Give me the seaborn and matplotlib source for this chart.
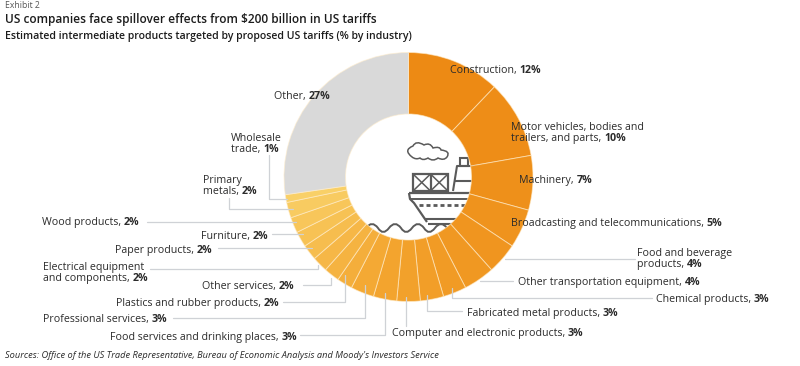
import matplotlib
matplotlib.use("Agg")
import matplotlib.pyplot as plt
from matplotlib.patches import PathPatch, Rectangle
from matplotlib.path import Path
import seaborn as sns

sns.set_theme(style="white")
plt.rcParams["font.family"] = ["Open Sans", "DejaVu Sans"]

industries = ["Construction", "Motor vehicles", "Machinery", "Broadcasting", "Food and beverage",
              "Other transportation", "Chemical", "Fabricated metal", "Computer", "Food services",
              "Professional", "Plastics", "Other services", "Electrical", "Paper", "Furniture",
              "Wood", "Primary metals", "Wholesale", "Other"]
shares = [12, 10, 7, 5, 4, 4, 3, 3, 3, 3, 3, 2, 2, 2, 2, 2, 2, 2, 1, 27]

# (regular text, bold value, x, baseline y of last line)
labels = [
    ("Construction, ", "12%", 450, 73),
    ("Motor vehicles, bodies and\ntrailers, and parts, ", "10%", 511, 141),
    ("Machinery, ", "7%", 519, 183),
    ("Broadcasting and telecommunications, ", "5%", 511, 226),
    ("Food and beverage\nproducts, ", "4%", 637, 267),
    ("Other transportation equipment, ", "4%", 518, 285),
    ("Chemical products, ", "3%", 656, 302),
    ("Fabricated metal products, ", "3%", 467, 316),
    ("Computer and electronic products, ", "3%", 392, 336),
    ("Food services and drinking places, ", "3%", 110, 340),
    ("Professional services, ", "3%", 43, 322),
    ("Plastics and rubber products, ", "2%", 116, 306),
    ("Other services, ", "2%", 202, 289),
    ("Electrical equipment\nand components, ", "2%", 43, 281),
    ("Paper products, ", "2%", 115, 253),
    ("Furniture, ", "2%", 201, 239),
    ("Wood products, ", "2%", 42, 225),
    ("Primary\nmetals, ", "2%", 203, 194),
    ("Wholesale\ntrade, ", "1%", 231, 152),
    ("Other, ", "27%", 274, 99),
]

leaders = [
    [(505, 259), (635, 259)],
    [(480, 281), (513, 281)],
    [(452, 288), (452, 298), (652, 298)],
    [(427, 295), (427, 311), (462, 311)],
    [(406, 297), (406, 326)],
    [(385, 293), (385, 335), (300, 335)],
    [(365, 285), (365, 318), (173, 318)],
    [(345, 275), (345, 302), (283, 302)],
    [(331, 278), (331, 285), (303, 285)],
    [(318, 265), (318, 269), (150, 269)],
    [(312, 248), (218, 248)],
    [(303, 234), (272, 234)],
    [(296, 222), (147, 222)],
    [(293, 209), (229, 209), (229, 198)],
    [(287, 199), (269, 199), (269, 155)],
]

W, H = 800, 366
cx, cy, R, r = 408.5, 177, 124.5, 63
ink = "#2b2b2b"
icon = "#5a5a5a"

fig = plt.figure(figsize=(8, 3.66), dpi=100)

# pixel axes under the ring for the ship, which the ring partly hides
bg = fig.add_axes([0, 0, 1, 1], zorder=0)
bg.set_xlim(0, W)
bg.set_ylim(H, 0)
bg.axis("off")


def stroke(pts, lw=1.5, ax=bg):
    ax.plot([p[0] for p in pts], [p[1] for p in pts], color=icon, lw=lw, solid_capstyle="butt")


def curve(verts, lw=1.3):
    codes = [Path.MOVETO] + [Path.CURVE3] * (len(verts) - 1)
    bg.add_patch(PathPatch(Path(verts, codes), fc="none", ec=icon, lw=lw))


# cloud
curve([(412, 157), (403, 150), (413, 146), (416, 140), (424, 145), (430, 142), (433, 148),
       (440, 146), (441, 150), (451, 151), (447, 157), (444, 161), (438, 158), (433, 162),
       (428, 158), (423, 161), (420, 158), (416, 160), (412, 157)], 1.1)
# containers
bg.add_patch(Rectangle((413, 174), 35, 17, fc="none", ec=icon, lw=1.6))
stroke([(430.5, 174), (430.5, 191)], 1.6)
for x0, x1 in [(413, 430.5), (430.5, 448)]:
    stroke([(x0, 174), (x1, 191)], 1.1)
    stroke([(x0, 191), (x1, 174)], 1.1)
# funnel
stroke([(453, 191), (457, 166), (476, 166)], 1.5)
stroke([(454, 181), (476, 181)], 1.5)
bg.add_patch(Rectangle((460, 158), 8, 8, fc="none", ec=icon, lw=1.5))
# hull
stroke([(409, 193), (476, 193)], 1.6)
stroke([(410, 199), (476, 199)], 1.4)
stroke([(409, 193), (410, 199), (414, 203), (427, 222)], 1.6)
stroke([(425, 219), (470, 219)], 1.5)
stroke([(428, 224), (460, 224)], 1.5)
for x in [419, 426, 433, 440, 447, 454, 461]:
    stroke([(x, 205), (x + 3.5, 205)], 2.0)
# water
curve([(366, 228), (372, 220), (378, 228), (383, 236), (389, 228), (395, 220), (401, 228),
       (406, 236), (412, 228), (418, 220), (424, 228), (429, 236), (435, 228), (441, 220), (447, 228)], 1.4)

# ring, transparent hole
ax = fig.add_axes([(cx - R - 2) / W, 1 - (cy + R + 2) / H, (2 * R + 4) / W, (2 * R + 4) / H], zorder=1)
ax.patch.set_alpha(0)
colors = sns.blend_palette(["#ED8A14", "#F3A42E", "#F9D067"], n_colors=len(shares) - 1) + ["#D9D9D9"]
ax.pie(shares, colors=colors, startangle=90, counterclock=False, radius=R,
       wedgeprops=dict(width=R - r, edgecolor=(1, 0.93, 0.8, 0.6), linewidth=0.7))
ax.set_xlim(-R - 2, R + 2)
ax.set_ylim(-R - 2, R + 2)

# pixel axes over the ring for leaders and texts
top = fig.add_axes([0, 0, 1, 1], zorder=2)
top.set_xlim(0, W)
top.set_ylim(H, 0)
top.axis("off")
top.patch.set_alpha(0)

for pts in leaders:
    top.plot([p[0] for p in pts], [p[1] for p in pts], color="#cfd2d6", lw=0.9)

rend = fig.canvas.get_renderer()
fs = 7.7
for text, val, x, y in labels:
    top.text(x, y, text, fontsize=fs, color=ink, va="baseline", ha="left", linespacing=0.95)
    # width of the last line only, the bold value follows it
    probe = top.text(x, y, text.split("\n")[-1], fontsize=fs, va="baseline", ha="left")
    end = probe.get_window_extent(rend).x1
    probe.remove()
    top.text(end, y, val, fontsize=fs, color=ink, va="baseline", ha="left", fontweight="bold")

top.text(5, 5, "Exhibit 2", fontsize=6.2, color="#555555", va="center")
top.text(5, 20, "US companies face spillover effects from \\$200 billion in US tariffs", fontsize=8.6,
         color="#1c1c1c", va="center", fontweight="semibold")
top.text(5, 37, "Estimated intermediate products targeted by proposed US tariffs (% by industry)", fontsize=7.6,
         color="#1c1c1c", va="center", fontweight="semibold")
top.text(5, 356, "Sources: Office of the US Trade Representative, Bureau of Economic Analysis and Moody's Investors Service",
         fontsize=6.7, color=ink, va="center", style="italic")

fig.savefig("out.png", dpi=100)
